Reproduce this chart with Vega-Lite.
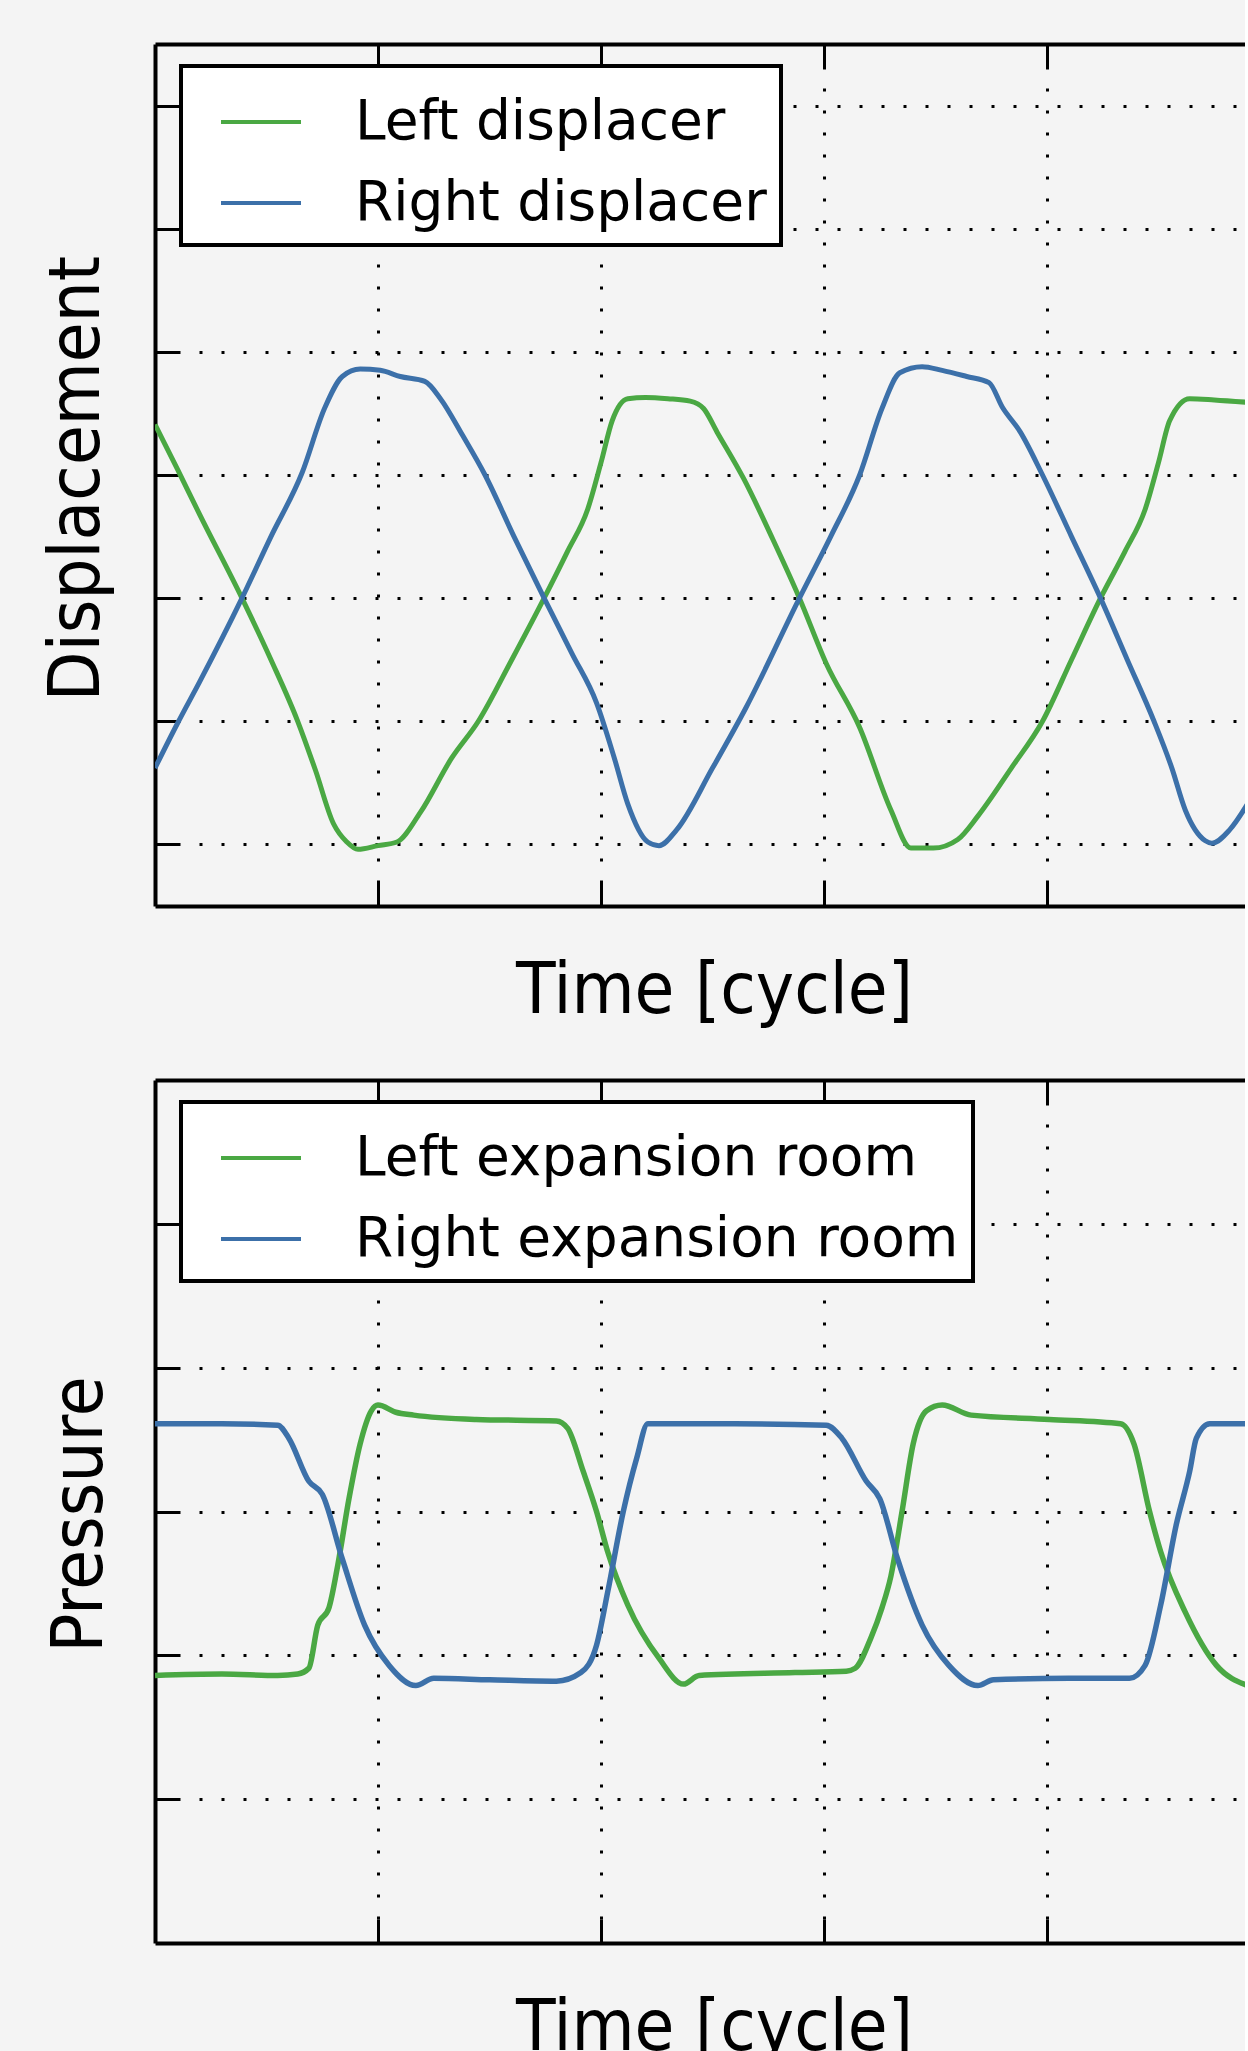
{
  "$schema": "https://vega.github.io/schema/vega-lite/v6.json",
  "background": "#f4f4f4",
  "autosize": {"type": "pad"},
  "padding": {"left": 39, "top": 42, "right": 0, "bottom": 0},
  "bounds": "flush",
  "spacing": 174,
  "config": {
    "view": {"stroke": null},
    "font": "DejaVu Sans"
  },
  "resolve": {
    "scale": {"x": "independent", "y": "independent", "color": "independent"},
    "legend": {"color": "independent"}
  },
  "datasets": {
    "disp": [
      {"t": 0.00, "d": 1.41, "s": "Left displacer"},
      {"t": 0.10, "d": 1.05, "s": "Left displacer"},
      {"t": 0.20, "d": 0.68, "s": "Left displacer"},
      {"t": 0.39, "d": 0.0, "s": "Left displacer"},
      {"t": 0.52, "d": -0.50, "s": "Left displacer"},
      {"t": 0.64, "d": -1.0, "s": "Left displacer"},
      {"t": 0.72, "d": -1.40, "s": "Left displacer"},
      {"t": 0.80, "d": -1.83, "s": "Left displacer"},
      {"t": 0.86, "d": -1.98, "s": "Left displacer"},
      {"t": 0.91, "d": -2.04, "s": "Left displacer"},
      {"t": 1.00, "d": -2.01, "s": "Left displacer"},
      {"t": 1.085, "d": -1.98, "s": "Left displacer"},
      {"t": 1.19, "d": -1.74, "s": "Left displacer"},
      {"t": 1.33, "d": -1.30, "s": "Left displacer"},
      {"t": 1.45, "d": -1.0, "s": "Left displacer"},
      {"t": 1.60, "d": -0.50, "s": "Left displacer"},
      {"t": 1.745, "d": 0.0, "s": "Left displacer"},
      {"t": 1.85, "d": 0.38, "s": "Left displacer"},
      {"t": 1.94, "d": 0.72, "s": "Left displacer"},
      {"t": 2.00, "d": 1.10, "s": "Left displacer"},
      {"t": 2.05, "d": 1.44, "s": "Left displacer"},
      {"t": 2.12, "d": 1.62, "s": "Left displacer"},
      {"t": 2.20, "d": 1.63, "s": "Left displacer"},
      {"t": 2.30, "d": 1.62, "s": "Left displacer"},
      {"t": 2.40, "d": 1.60, "s": "Left displacer"},
      {"t": 2.46, "d": 1.54, "s": "Left displacer"},
      {"t": 2.52, "d": 1.35, "s": "Left displacer"},
      {"t": 2.64, "d": 0.97, "s": "Left displacer"},
      {"t": 2.77, "d": 0.48, "s": "Left displacer"},
      {"t": 2.89, "d": 0.0, "s": "Left displacer"},
      {"t": 3.01, "d": -0.53, "s": "Left displacer"},
      {"t": 3.16, "d": -1.05, "s": "Left displacer"},
      {"t": 3.30, "d": -1.72, "s": "Left displacer"},
      {"t": 3.39, "d": -2.03, "s": "Left displacer"},
      {"t": 3.49, "d": -2.03, "s": "Left displacer"},
      {"t": 3.60, "d": -1.96, "s": "Left displacer"},
      {"t": 3.69, "d": -1.77, "s": "Left displacer"},
      {"t": 3.84, "d": -1.38, "s": "Left displacer"},
      {"t": 3.98, "d": -1.0, "s": "Left displacer"},
      {"t": 4.11, "d": -0.50, "s": "Left displacer"},
      {"t": 4.24, "d": 0.0, "s": "Left displacer"},
      {"t": 4.35, "d": 0.38, "s": "Left displacer"},
      {"t": 4.44, "d": 0.72, "s": "Left displacer"},
      {"t": 4.50, "d": 1.10, "s": "Left displacer"},
      {"t": 4.55, "d": 1.44, "s": "Left displacer"},
      {"t": 4.64, "d": 1.62, "s": "Left displacer"},
      {"t": 4.75, "d": 1.61, "s": "Left displacer"},
      {"t": 4.90, "d": 1.59, "s": "Left displacer"},
      {"t": 0.00, "d": -1.38, "s": "Right displacer"},
      {"t": 0.10, "d": -1.02, "s": "Right displacer"},
      {"t": 0.20, "d": -0.68, "s": "Right displacer"},
      {"t": 0.39, "d": 0.0, "s": "Right displacer"},
      {"t": 0.52, "d": 0.50, "s": "Right displacer"},
      {"t": 0.66, "d": 1.02, "s": "Right displacer"},
      {"t": 0.76, "d": 1.54, "s": "Right displacer"},
      {"t": 0.84, "d": 1.80, "s": "Right displacer"},
      {"t": 0.92, "d": 1.86, "s": "Right displacer"},
      {"t": 1.01, "d": 1.85, "s": "Right displacer"},
      {"t": 1.10, "d": 1.80, "s": "Right displacer"},
      {"t": 1.21, "d": 1.76, "s": "Right displacer"},
      {"t": 1.28, "d": 1.62, "s": "Right displacer"},
      {"t": 1.38, "d": 1.32, "s": "Right displacer"},
      {"t": 1.48, "d": 1.0, "s": "Right displacer"},
      {"t": 1.61, "d": 0.50, "s": "Right displacer"},
      {"t": 1.745, "d": 0.0, "s": "Right displacer"},
      {"t": 1.87, "d": -0.45, "s": "Right displacer"},
      {"t": 1.98, "d": -0.85, "s": "Right displacer"},
      {"t": 2.06, "d": -1.30, "s": "Right displacer"},
      {"t": 2.12, "d": -1.67, "s": "Right displacer"},
      {"t": 2.21, "d": -1.98, "s": "Right displacer"},
      {"t": 2.26, "d": -2.01, "s": "Right displacer"},
      {"t": 2.34, "d": -1.88, "s": "Right displacer"},
      {"t": 2.50, "d": -1.38, "s": "Right displacer"},
      {"t": 2.65, "d": -0.89, "s": "Right displacer"},
      {"t": 2.89, "d": 0.0, "s": "Right displacer"},
      {"t": 3.03, "d": 0.50, "s": "Right displacer"},
      {"t": 3.16, "d": 1.0, "s": "Right displacer"},
      {"t": 3.26, "d": 1.54, "s": "Right displacer"},
      {"t": 3.34, "d": 1.83, "s": "Right displacer"},
      {"t": 3.44, "d": 1.88, "s": "Right displacer"},
      {"t": 3.53, "d": 1.85, "s": "Right displacer"},
      {"t": 3.64, "d": 1.80, "s": "Right displacer"},
      {"t": 3.74, "d": 1.75, "s": "Right displacer"},
      {"t": 3.80, "d": 1.55, "s": "Right displacer"},
      {"t": 3.88, "d": 1.35, "s": "Right displacer"},
      {"t": 3.98, "d": 1.0, "s": "Right displacer"},
      {"t": 4.11, "d": 0.50, "s": "Right displacer"},
      {"t": 4.24, "d": 0.0, "s": "Right displacer"},
      {"t": 4.36, "d": -0.50, "s": "Right displacer"},
      {"t": 4.48, "d": -1.0, "s": "Right displacer"},
      {"t": 4.56, "d": -1.38, "s": "Right displacer"},
      {"t": 4.62, "d": -1.72, "s": "Right displacer"},
      {"t": 4.71, "d": -1.97, "s": "Right displacer"},
      {"t": 4.74, "d": -1.99, "s": "Right displacer"},
      {"t": 4.82, "d": -1.88, "s": "Right displacer"},
      {"t": 4.90, "d": -1.67, "s": "Right displacer"}
    ],
    "pres": [
      {"t": 0.00, "p": 1.86, "s": "Left expansion room"},
      {"t": 0.30, "p": 1.87, "s": "Left expansion room"},
      {"t": 0.55, "p": 1.86, "s": "Left expansion room"},
      {"t": 0.64, "p": 1.87, "s": "Left expansion room"},
      {"t": 0.69, "p": 1.91, "s": "Left expansion room"},
      {"t": 0.73, "p": 2.21, "s": "Left expansion room"},
      {"t": 0.78, "p": 2.33, "s": "Left expansion room"},
      {"t": 0.82, "p": 2.63, "s": "Left expansion room"},
      {"t": 0.87, "p": 3.09, "s": "Left expansion room"},
      {"t": 0.92, "p": 3.47, "s": "Left expansion room"},
      {"t": 0.97, "p": 3.70, "s": "Left expansion room"},
      {"t": 1.00, "p": 3.74, "s": "Left expansion room"},
      {"t": 1.08, "p": 3.69, "s": "Left expansion room"},
      {"t": 1.16, "p": 3.67, "s": "Left expansion room"},
      {"t": 1.44, "p": 3.64, "s": "Left expansion room"},
      {"t": 1.80, "p": 3.63, "s": "Left expansion room"},
      {"t": 1.85, "p": 3.58, "s": "Left expansion room"},
      {"t": 1.92, "p": 3.28, "s": "Left expansion room"},
      {"t": 1.98, "p": 3.0, "s": "Left expansion room"},
      {"t": 2.03, "p": 2.72, "s": "Left expansion room"},
      {"t": 2.12, "p": 2.35, "s": "Left expansion room"},
      {"t": 2.26, "p": 1.98, "s": "Left expansion room"},
      {"t": 2.37, "p": 1.80, "s": "Left expansion room"},
      {"t": 2.44, "p": 1.86, "s": "Left expansion room"},
      {"t": 2.87, "p": 1.88, "s": "Left expansion room"},
      {"t": 3.10, "p": 1.89, "s": "Left expansion room"},
      {"t": 3.14, "p": 1.91, "s": "Left expansion room"},
      {"t": 3.21, "p": 2.12, "s": "Left expansion room"},
      {"t": 3.26, "p": 2.33, "s": "Left expansion room"},
      {"t": 3.30, "p": 2.55, "s": "Left expansion room"},
      {"t": 3.35, "p": 3.0, "s": "Left expansion room"},
      {"t": 3.40, "p": 3.47, "s": "Left expansion room"},
      {"t": 3.46, "p": 3.70, "s": "Left expansion room"},
      {"t": 3.53, "p": 3.74, "s": "Left expansion room"},
      {"t": 3.66, "p": 3.67, "s": "Left expansion room"},
      {"t": 4.01, "p": 3.64, "s": "Left expansion room"},
      {"t": 4.33, "p": 3.61, "s": "Left expansion room"},
      {"t": 4.39, "p": 3.47, "s": "Left expansion room"},
      {"t": 4.46, "p": 3.0, "s": "Left expansion room"},
      {"t": 4.51, "p": 2.72, "s": "Left expansion room"},
      {"t": 4.62, "p": 2.30, "s": "Left expansion room"},
      {"t": 4.76, "p": 1.93, "s": "Left expansion room"},
      {"t": 4.90, "p": 1.79, "s": "Left expansion room"},
      {"t": 0.00, "p": 3.61, "s": "Right expansion room"},
      {"t": 0.30, "p": 3.61, "s": "Right expansion room"},
      {"t": 0.55, "p": 3.60, "s": "Right expansion room"},
      {"t": 0.60, "p": 3.51, "s": "Right expansion room"},
      {"t": 0.69, "p": 3.21, "s": "Right expansion room"},
      {"t": 0.75, "p": 3.12, "s": "Right expansion room"},
      {"t": 0.84, "p": 2.67, "s": "Right expansion room"},
      {"t": 0.94, "p": 2.21, "s": "Right expansion room"},
      {"t": 1.05, "p": 1.93, "s": "Right expansion room"},
      {"t": 1.17, "p": 1.79, "s": "Right expansion room"},
      {"t": 1.25, "p": 1.84, "s": "Right expansion room"},
      {"t": 1.50, "p": 1.83, "s": "Right expansion room"},
      {"t": 1.80, "p": 1.82, "s": "Right expansion room"},
      {"t": 1.91, "p": 1.88, "s": "Right expansion room"},
      {"t": 1.98, "p": 2.07, "s": "Right expansion room"},
      {"t": 2.03, "p": 2.44, "s": "Right expansion room"},
      {"t": 2.10, "p": 3.0, "s": "Right expansion room"},
      {"t": 2.16, "p": 3.37, "s": "Right expansion room"},
      {"t": 2.21, "p": 3.61, "s": "Right expansion room"},
      {"t": 2.60, "p": 3.61, "s": "Right expansion room"},
      {"t": 3.01, "p": 3.60, "s": "Right expansion room"},
      {"t": 3.08, "p": 3.51, "s": "Right expansion room"},
      {"t": 3.19, "p": 3.21, "s": "Right expansion room"},
      {"t": 3.25, "p": 3.09, "s": "Right expansion room"},
      {"t": 3.33, "p": 2.67, "s": "Right expansion room"},
      {"t": 3.44, "p": 2.21, "s": "Right expansion room"},
      {"t": 3.56, "p": 1.93, "s": "Right expansion room"},
      {"t": 3.69, "p": 1.79, "s": "Right expansion room"},
      {"t": 3.76, "p": 1.83, "s": "Right expansion room"},
      {"t": 4.10, "p": 1.84, "s": "Right expansion room"},
      {"t": 4.37, "p": 1.84, "s": "Right expansion room"},
      {"t": 4.44, "p": 1.93, "s": "Right expansion room"},
      {"t": 4.51, "p": 2.35, "s": "Right expansion room"},
      {"t": 4.58, "p": 2.91, "s": "Right expansion room"},
      {"t": 4.64, "p": 3.28, "s": "Right expansion room"},
      {"t": 4.67, "p": 3.51, "s": "Right expansion room"},
      {"t": 4.73, "p": 3.61, "s": "Right expansion room"},
      {"t": 4.90, "p": 3.61, "s": "Right expansion room"}
    ]
  },
  "vconcat": [
    {
      "width": 1090,
      "height": 862,
      "layer": [
        {
          "data": {"name": "disp"},
          "mark": {"type": "line", "strokeWidth": 5, "interpolate": "monotone", "clip": true},
          "encoding": {
            "x": {
              "field": "t", "type": "quantitative",
              "scale": {"domain": [0, 4.888], "nice": false, "zero": false},
              "axis": {
                "orient": "bottom", "values": [1, 2, 3, 4], "labels": false,
                "tickSize": -24, "tickWidth": 3, "tickColor": "black",
                "domainColor": "black", "domainWidth": 4,
                "grid": true, "gridColor": "black", "gridDash": [3, 19], "gridWidth": 3, "gridOpacity": 1,
                "title": "Time [cycle]", "titleFont": "DejaVu Sans Condensed, DejaVu Sans", "titleFontSize": 72,
                "titleFontWeight": "normal", "titleColor": "black",
                "titleAlign": "center", "titleBaseline": "alphabetic", "titleX": 559, "titleY": 106
              }
            },
            "y": {
              "field": "d", "type": "quantitative",
              "scale": {"domain": [-2.5, 4.5], "nice": false, "zero": false},
              "axis": {
                "orient": "left", "values": [-2, -1, 0, 1, 2, 3, 4], "labels": false,
                "tickSize": -24, "tickWidth": 3, "tickColor": "black",
                "domainColor": "black", "domainWidth": 4,
                "grid": true, "gridColor": "black", "gridDash": [3, 19], "gridWidth": 3, "gridOpacity": 1,
                "title": "Displacement", "titleFont": "DejaVu Sans Condensed, DejaVu Sans", "titleFontSize": 72,
                "titleFontWeight": "normal", "titleColor": "black", "titleAngle": 270,
                "titleAlign": "center", "titleBaseline": "alphabetic", "titleX": -57, "titleY": 434
              }
            },
            "color": {
              "field": "s", "type": "nominal",
              "scale": {"domain": ["Left displacer", "Right displacer"], "range": ["#4aa843", "#3c70a9"]},
              "legend": {
                "orient": "none", "legendX": 26, "legendY": 22, "title": null, "direction": "vertical",
                "fillColor": "white", "strokeColor": "black", "padding": 14,
                "symbolType": "stroke", "symbolSize": 6400, "symbolStrokeWidth": 4, "symbolOffset": 24,
                "labelOffset": 52, "labelFont": "DejaVu Sans", "labelFontSize": 55, "labelColor": "black",
                "labelLimit": 2000, "rowPadding": 11,
                "encode": {"legend": {"update": {"strokeWidth": {"value": 4}}}}
              }
            }
          }
        },
        {
          "data": {"values": [{"t": 0}]},
          "mark": {"type": "rule", "opacity": 0},
          "encoding": {
            "x": {
              "field": "t", "type": "quantitative",
              "scale": {"domain": [0, 4.888], "nice": false, "zero": false},
              "axis": {
                "orient": "top", "values": [1, 2, 3, 4], "labels": false,
                "tickSize": -24, "tickWidth": 3, "tickColor": "black",
                "domainColor": "black", "domainWidth": 4, "grid": false, "title": null
              }
            }
          }
        }
      ],
      "resolve": {"axis": {"x": "independent"}}
    },
    {
      "width": 1090,
      "height": 863,
      "layer": [
        {
          "data": {"name": "pres"},
          "mark": {"type": "line", "strokeWidth": 5.5, "interpolate": "monotone", "clip": true},
          "encoding": {
            "x": {
              "field": "t", "type": "quantitative",
              "scale": {"domain": [0, 4.888], "nice": false, "zero": false},
              "axis": {
                "orient": "bottom", "values": [1, 2, 3, 4], "labels": false,
                "tickSize": -24, "tickWidth": 3, "tickColor": "black",
                "domainColor": "black", "domainWidth": 4,
                "grid": true, "gridColor": "black", "gridDash": [3, 19], "gridWidth": 3, "gridOpacity": 1,
                "title": "Time [cycle]", "titleFont": "DejaVu Sans Condensed, DejaVu Sans", "titleFontSize": 72,
                "titleFontWeight": "normal", "titleColor": "black",
                "titleAlign": "center", "titleBaseline": "alphabetic", "titleX": 559, "titleY": 106
              }
            },
            "y": {
              "field": "p", "type": "quantitative",
              "scale": {"domain": [0, 6], "nice": false, "zero": false},
              "axis": {
                "orient": "left", "values": [1, 2, 3, 4, 5], "labels": false,
                "tickSize": -24, "tickWidth": 3, "tickColor": "black",
                "domainColor": "black", "domainWidth": 4,
                "grid": true, "gridColor": "black", "gridDash": [3, 19], "gridWidth": 3, "gridOpacity": 1,
                "title": "Pressure", "titleFont": "DejaVu Sans Condensed, DejaVu Sans", "titleFontSize": 72,
                "titleFontWeight": "normal", "titleColor": "black", "titleAngle": 270,
                "titleAlign": "center", "titleBaseline": "alphabetic", "titleX": -54, "titleY": 434
              }
            },
            "color": {
              "field": "s", "type": "nominal",
              "scale": {"domain": ["Left expansion room", "Right expansion room"], "range": ["#4aa843", "#3c70a9"]},
              "legend": {
                "orient": "none", "legendX": 26, "legendY": 22, "title": null, "direction": "vertical",
                "fillColor": "white", "strokeColor": "black", "padding": 14,
                "symbolType": "stroke", "symbolSize": 6400, "symbolStrokeWidth": 4, "symbolOffset": 24,
                "labelOffset": 52, "labelFont": "DejaVu Sans", "labelFontSize": 55, "labelColor": "black",
                "labelLimit": 2000, "rowPadding": 11,
                "encode": {"legend": {"update": {"strokeWidth": {"value": 4}}}}
              }
            }
          }
        },
        {
          "data": {"values": [{"t": 0}]},
          "mark": {"type": "rule", "opacity": 0},
          "encoding": {
            "x": {
              "field": "t", "type": "quantitative",
              "scale": {"domain": [0, 4.888], "nice": false, "zero": false},
              "axis": {
                "orient": "top", "values": [1, 2, 3, 4], "labels": false,
                "tickSize": -24, "tickWidth": 3, "tickColor": "black",
                "domainColor": "black", "domainWidth": 4, "grid": false, "title": null
              }
            }
          }
        }
      ],
      "resolve": {"axis": {"x": "independent"}}
    }
  ]
}
